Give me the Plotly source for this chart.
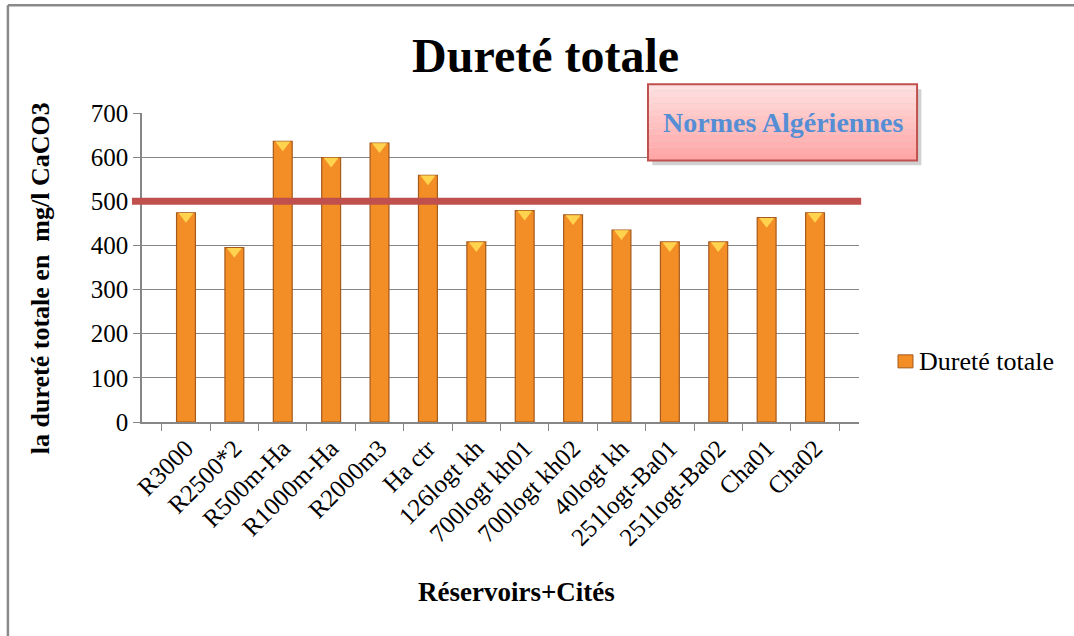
import plotly.graph_objects as go

categories = ["R3000", "R2500*2", "R500m-Ha", "R1000m-Ha", "R2000m3", "Ha ctr",
              "126logt kh", "700logt kh01", "700logt kh02", "40logt kh",
              "251logt-Ba01", "251logt-Ba02", "Cha01", "Cha02"]
durete = [474, 395, 636, 599, 632, 559, 408, 479, 469, 435, 408, 408, 463, 474]
norme = 500
y_ticks = [0, 100, 200, 300, 400, 500, 600, 700]

FONT = "Liberation Serif, Times New Roman, serif"

fig = go.Figure()
fig.add_trace(go.Bar(
    x=categories, y=durete, name="Dureté totale", width=0.39, showlegend=False,
    marker=dict(color="#F38E27", line=dict(color="#A5591A", width=1.2)),
))
# bevel highlight at top of each bar
fig.add_trace(go.Scatter(
    x=categories, y=[v - 8 for v in durete], mode="markers", showlegend=False,
    hoverinfo="skip",
    marker=dict(symbol="triangle-down", size=13, color="#FFD34D", line=dict(width=0)),
))

shapes = []
# outer chart border (left and top)
shapes.append(dict(type="line", xref="paper", yref="paper", x0=-0.187, x1=-0.187, y0=1.349, y1=-0.75,
                   line=dict(color="#8A8A8A", width=2.5)))
shapes.append(dict(type="line", xref="paper", yref="paper", x0=-0.187, x1=1.35, y0=1.349, y1=1.349,
                   line=dict(color="#8A8A8A", width=2.5)))
# norm line
shapes.append(dict(type="line", xref="paper", yref="y", x0=-0.014, x1=1.003, y0=norme, y1=norme,
                   line=dict(color="#C0504D", width=7)))
# Normes box: shadow, gradient bands, border
bx0, bx1, by0, by1 = 0.7057, 1.081, 0.8466, 1.093
shapes.append(dict(type="rect", xref="paper", yref="paper", x0=bx0 + 0.006, x1=bx1 + 0.006,
                   y0=by0 - 0.016, y1=by1 - 0.016, fillcolor="rgba(0,0,0,0.18)", line=dict(width=0)))
n = 12
top_c = (255, 224, 224)
bot_c = (255, 166, 166)
for i in range(n):
    t = i / (n - 1)
    c = tuple(int(top_c[k] + (bot_c[k] - top_c[k]) * t) for k in range(3))
    ya = by1 - (by1 - by0) * i / n
    yb = by1 - (by1 - by0) * (i + 1) / n
    shapes.append(dict(type="rect", xref="paper", yref="paper", x0=bx0, x1=bx1, y0=yb, y1=ya,
                       fillcolor="rgb(%d,%d,%d)" % c, line=dict(width=0)))
shapes.append(dict(type="rect", xref="paper", yref="paper", x0=bx0, x1=bx1, y0=by0, y1=by1,
                   fillcolor="rgba(0,0,0,0)", line=dict(color="#C0504D", width=2)))
# legend swatch
shapes.append(dict(type="rect", xref="paper", yref="paper", x0=1.0544, x1=1.0753, y0=0.1752, y1=0.2173,
                   fillcolor="#F38E27", line=dict(color="#A5591A", width=1)))

annotations = [
    dict(text="<b>Normes Algériennes</b>", xref="paper", yref="paper",
         x=(bx0 + bx1) / 2, y=(by0 + by1) / 2, xanchor="center", yanchor="middle", showarrow=False,
         font=dict(family=FONT, size=28, color="#558ED5")),
    dict(text="<b>la dureté totale en&nbsp; mg/l CaCO3</b>", xref="paper", yref="paper",
         x=-0.142, y=0.466, xanchor="center", yanchor="middle", textangle=-90, showarrow=False,
         font=dict(family=FONT, size=26, color="black")),
    dict(text="<b>Réservoirs+Cités</b>", xref="paper", yref="paper",
         x=0.523, y=-0.55, xanchor="center", yanchor="middle", showarrow=False,
         font=dict(family=FONT, size=27, color="black")),
    dict(text="Dureté totale", xref="paper", yref="paper",
         x=1.081, y=0.1946, xanchor="left", yanchor="middle", showarrow=False,
         font=dict(family=FONT, size=26, color="black")),
]

fig.update_layout(
    width=1074, height=636,
    margin=dict(l=142, r=215, t=113, b=214),
    paper_bgcolor="white", plot_bgcolor="white",
    title=dict(text="<b>Dureté totale</b>", x=0.508, xanchor="center", y=0.913, yanchor="middle",
               font=dict(family=FONT, size=48, color="black")),
    font=dict(family=FONT, size=24, color="black"),
    showlegend=False,
    shapes=shapes,
    annotations=annotations,
)
fig.update_xaxes(
    type="category", tickangle=-45, tickfont=dict(family=FONT, size=25, color="black"),
    showline=True, linecolor="#868686", linewidth=1.5, ticks="outside", tickson="boundaries",
    ticklen=7, tickcolor="#868686", showgrid=False, automargin=False,
)
fig.update_yaxes(
    range=[0, 700], tickvals=y_ticks, tickfont=dict(family=FONT, size=25, color="black"),
    showline=True, linecolor="#868686", linewidth=1.5, ticks="outside", ticklen=7,
    tickcolor="#868686", showgrid=True, gridcolor="#868686", gridwidth=1.2, zeroline=False,
    automargin=False,
)

fig.write_html("out.html", config={"displayModeBar": False},
               post_script="document.body.style.margin='0';document.body.style.overflow='hidden';")
